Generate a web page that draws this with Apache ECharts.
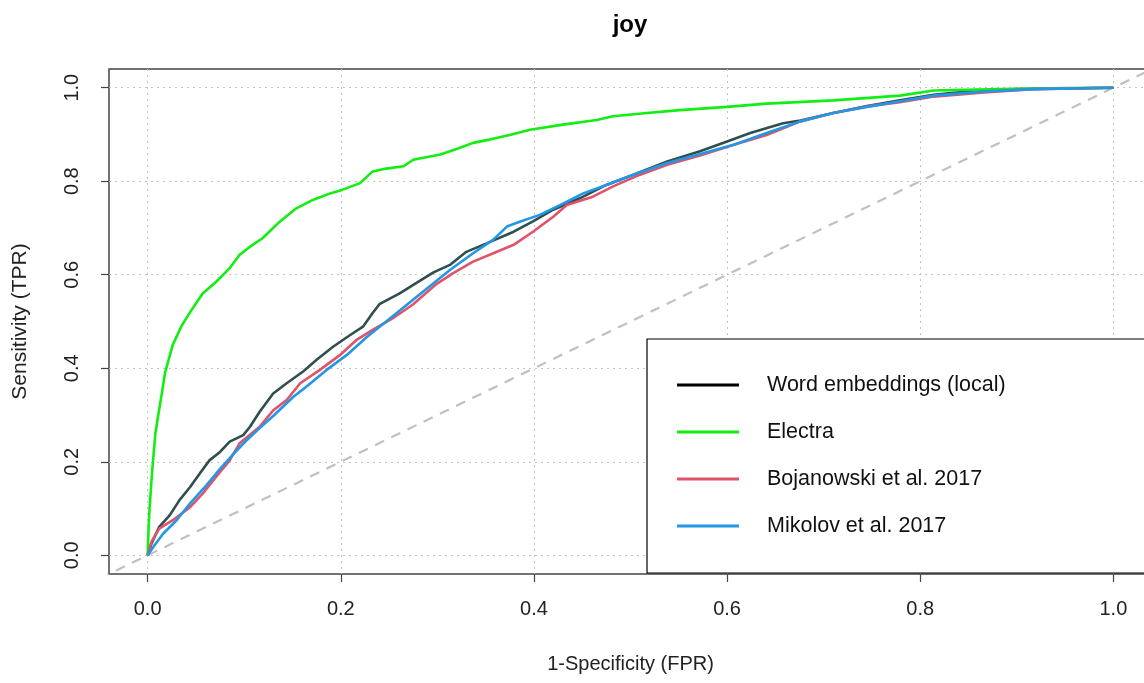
<!DOCTYPE html>
<html>
<head>
<meta charset="utf-8">
<script src="https://cdn.jsdelivr.net/npm/echarts@6/dist/echarts.min.js"></script>
<style>
  html, body { margin: 0; padding: 0; background: #fff; }
  #chart { width: 1144px; height: 683px; }
</style>
</head>
<body>
<div id="chart"></div>
<script>
// ROC curves for the "joy" class: [1-specificity, sensitivity] pairs per model
const titleText = 'joy';
const xName = '1-Specificity (FPR)';
const yName = 'Sensitivity (TPR)';
const xTicks = [0, 0.2, 0.4, 0.6, 0.8, 1.0];
const yTicks = [0, 0.2, 0.4, 0.6, 0.8, 1.0];

const seriesNames = ['Word embeddings (local)', 'Electra', 'Bojanowski et al. 2017', 'Mikolov et al. 2017'];
const lineColors = ['#2f4f4f', '#11ee11', '#df536b', '#2297e6'];
const legendColors = ['#000000', '#11ee11', '#df536b', '#2297e6'];

const wordEmbeddings = [
  [0, 0], [0.004, 0.025], [0.012, 0.061], [0.023, 0.086], [0.033, 0.118], [0.044, 0.146],
  [0.054, 0.175], [0.064, 0.203], [0.075, 0.221], [0.085, 0.243], [0.099, 0.257], [0.106, 0.275],
  [0.116, 0.307], [0.130, 0.346], [0.144, 0.368], [0.161, 0.393], [0.175, 0.418], [0.192, 0.446],
  [0.209, 0.470], [0.223, 0.489], [0.233, 0.518], [0.240, 0.537], [0.261, 0.560], [0.278, 0.582],
  [0.296, 0.605], [0.313, 0.621], [0.330, 0.649], [0.351, 0.667], [0.379, 0.692], [0.399, 0.714],
  [0.420, 0.739], [0.448, 0.764], [0.475, 0.792], [0.503, 0.814], [0.538, 0.842], [0.572, 0.864],
  [0.600, 0.885], [0.624, 0.903], [0.658, 0.924], [0.676, 0.930], [0.710, 0.946], [0.745, 0.961],
  [0.779, 0.973], [0.814, 0.985], [0.848, 0.992], [0.900, 0.997], [1, 1]
];

const electra = [
  [0, 0], [0.001, 0.06], [0.002, 0.10], [0.004, 0.16], [0.0055, 0.20], [0.008, 0.26], [0.011, 0.30],
  [0.015, 0.35], [0.018, 0.39], [0.022, 0.42], [0.026, 0.45], [0.035, 0.49], [0.044, 0.52],
  [0.057, 0.560], [0.071, 0.585], [0.085, 0.614], [0.095, 0.642], [0.106, 0.660], [0.119, 0.678],
  [0.137, 0.714], [0.154, 0.742], [0.171, 0.760], [0.189, 0.774], [0.202, 0.782], [0.220, 0.796],
  [0.233, 0.821], [0.247, 0.827], [0.265, 0.832], [0.275, 0.846], [0.303, 0.857], [0.320, 0.869],
  [0.337, 0.882], [0.354, 0.889], [0.375, 0.899], [0.396, 0.910], [0.430, 0.921], [0.465, 0.931],
  [0.482, 0.939], [0.517, 0.946], [0.551, 0.952], [0.600, 0.959], [0.641, 0.966], [0.710, 0.973],
  [0.779, 0.983], [0.814, 0.994], [0.883, 0.997], [0.952, 0.999], [1, 1]
];

const bojanowski = [
  [0, 0], [0.004, 0.029], [0.012, 0.057], [0.026, 0.075], [0.044, 0.103], [0.057, 0.132],
  [0.071, 0.168], [0.085, 0.203], [0.095, 0.239], [0.116, 0.275], [0.130, 0.310], [0.144, 0.332],
  [0.158, 0.368], [0.178, 0.396], [0.199, 0.428], [0.216, 0.460], [0.233, 0.482], [0.254, 0.507],
  [0.275, 0.537], [0.299, 0.580], [0.316, 0.603], [0.337, 0.628], [0.358, 0.646], [0.379, 0.664],
  [0.399, 0.692], [0.420, 0.724], [0.434, 0.749], [0.461, 0.767], [0.482, 0.789], [0.510, 0.814],
  [0.538, 0.835], [0.572, 0.855], [0.607, 0.878], [0.641, 0.899], [0.676, 0.928], [0.710, 0.946],
  [0.745, 0.960], [0.779, 0.969], [0.814, 0.981], [0.866, 0.990], [0.917, 0.997], [1, 1]
];

const mikolov = [
  [0, 0], [0.007, 0.021], [0.016, 0.046], [0.030, 0.075], [0.044, 0.111], [0.061, 0.150],
  [0.075, 0.185], [0.088, 0.215], [0.102, 0.245], [0.116, 0.272], [0.130, 0.298], [0.151, 0.339],
  [0.164, 0.360], [0.185, 0.396], [0.206, 0.428], [0.227, 0.467], [0.247, 0.500], [0.271, 0.540],
  [0.296, 0.582], [0.313, 0.610], [0.337, 0.646], [0.358, 0.675], [0.372, 0.703], [0.386, 0.714],
  [0.406, 0.728], [0.427, 0.749], [0.451, 0.774], [0.475, 0.792], [0.503, 0.814], [0.538, 0.839],
  [0.572, 0.858], [0.607, 0.878], [0.641, 0.903], [0.676, 0.928], [0.710, 0.946], [0.745, 0.959],
  [0.779, 0.971], [0.814, 0.983], [0.866, 0.992], [0.917, 0.997], [1, 1]
];

// chance diagonal y = x, clipped by the plotting region
const chanceLine = [[-0.1, -0.1], [1.1, 1.1]];

const curves = [wordEmbeddings, electra, bojanowski, mikolov];
const FONT = '"Liberation Sans", Arial, Helvetica, sans-serif';

const chart = echarts.init(document.getElementById('chart'), null, { renderer: 'canvas' });

const gridLine = { show: true, lineStyle: { color: '#c4c4c4', width: 1, type: [2, 4] } };

const option = {
  animation: false,
  backgroundColor: '#ffffff',
  textStyle: { fontFamily: FONT },
  title: {
    text: titleText,
    left: 625,
    top: 8,
    textAlign: 'center',
    textStyle: { fontFamily: FONT, fontWeight: 'bold', fontSize: 24, color: '#000' }
  },
  grid: {
    left: 109, top: 69, width: 1043, height: 505,
    show: true, borderColor: '#444', borderWidth: 1.5,
    containLabel: false, outerBoundsMode: 'none'
  },
  xAxis: {
    type: 'value', min: -0.04, max: 1.04,
    name: xName, nameLocation: 'middle', nameGap: 80,
    nameTextStyle: { fontFamily: FONT, fontSize: 20, color: '#222' },
    axisLine: { show: false, onZero: false },
    axisTick: { show: true, customValues: xTicks, length: 8, inside: false, lineStyle: { color: '#444', width: 1.2 } },
    axisLabel: { customValues: xTicks, margin: 25, fontSize: 20, color: '#222', fontFamily: FONT,
      formatter: v => v.toFixed(1) },
    splitLine: gridLine
  },
  yAxis: {
    type: 'value', min: -0.04, max: 1.04,
    name: yName, nameLocation: 'middle', nameGap: 78, nameRotate: 90,
    nameTextStyle: { fontFamily: FONT, fontSize: 21, color: '#222' },
    axisLine: { show: false, onZero: false },
    axisTick: { show: true, customValues: yTicks, length: 8, inside: false, lineStyle: { color: '#444', width: 1.2 } },
    axisLabel: { customValues: yTicks, margin: 27, rotate: 90, fontSize: 20, color: '#222', fontFamily: FONT,
      formatter: v => v.toFixed(1) },
    splitLine: gridLine
  },
  legend: {
    orient: 'vertical',
    left: 647, top: 339,
    padding: [35, 260, 36, 30],
    itemWidth: 62, itemHeight: 3, itemGap: 25,
    icon: 'rect',
    backgroundColor: '#ffffff',
    borderColor: '#000', borderWidth: 1.2, borderRadius: 0,
    selectedMode: false,
    textStyle: { fontFamily: FONT, fontSize: 21.5, color: '#111', lineHeight: 21, padding: [0, 0, 0, 23] },
    data: seriesNames.map((n, i) => ({ name: n, itemStyle: { color: legendColors[i] } }))
  },
  series: [
    {
      name: 'chance', type: 'line', data: chanceLine, showSymbol: false, symbol: 'none', silent: true,
      lineStyle: { color: '#c0c0c0', width: 2.2, type: [10, 8] }, z: 1
    }
  ].concat(curves.map((d, i) => ({
    name: seriesNames[i], type: 'line', data: d, showSymbol: false, symbol: 'none',
    lineStyle: { color: lineColors[i], width: 2.6 }, itemStyle: { color: lineColors[i] }, z: 2 + i
  })))
};

chart.setOption(option);
</script>
</body>
</html>
